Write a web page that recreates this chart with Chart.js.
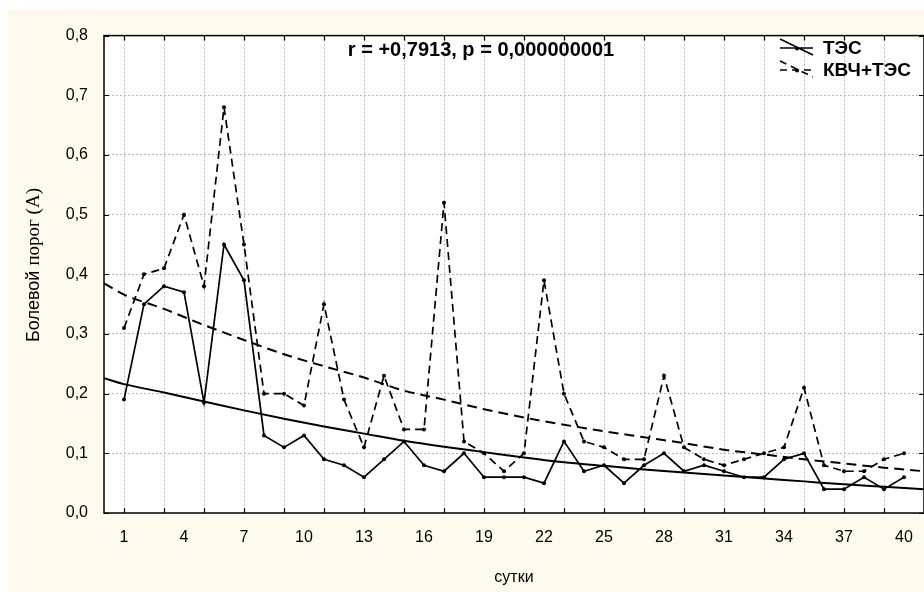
<!DOCTYPE html>
<html lang="ru">
<head>
<meta charset="utf-8">
<title>Болевой порог</title>
<script src="https://cdn.jsdelivr.net/npm/chart.js@4.4.1/dist/chart.umd.min.js"></script>
<style>
  html, body { margin: 0; padding: 0; background: #fff; overflow: hidden; }
  #wrap { position: absolute; left: 8px; top: 10px; width: 920px; height: 582px; }
</style>
</head>
<body>
<div id="wrap"><canvas id="grafico" width="920" height="582"></canvas></div>
<script>
const sutki = [1, 2, 3, 4, 5, 6, 7, 8, 9, 10, 11, 12, 13, 14, 15, 16, 17, 18, 19, 20,
  21, 22, 23, 24, 25, 26, 27, 28, 29, 30, 31, 32, 33, 34, 35, 36, 37, 38, 39, 40];

const tes = [0.19, 0.35, 0.38, 0.37, 0.185, 0.45, 0.39, 0.13, 0.11, 0.13,
  0.09, 0.08, 0.06, 0.09, 0.12, 0.08, 0.07, 0.10, 0.06, 0.06,
  0.06, 0.05, 0.12, 0.07, 0.08, 0.05, 0.08, 0.10, 0.07, 0.08,
  0.07, 0.06, 0.06, 0.09, 0.10, 0.04, 0.04, 0.06, 0.04, 0.06];

const kvchTes = [0.31, 0.40, 0.41, 0.50, 0.38, 0.68, 0.45, 0.20, 0.20, 0.18,
  0.35, 0.19, 0.11, 0.23, 0.14, 0.14, 0.52, 0.12, 0.10, 0.07,
  0.10, 0.39, 0.20, 0.12, 0.11, 0.09, 0.09, 0.23, 0.11, 0.09,
  0.08, 0.09, 0.10, 0.11, 0.21, 0.08, 0.07, 0.07, 0.09, 0.10];

// сглаживающие кривые
const trendX = [0, 1, 3, 5, 7, 9, 11, 13, 15, 17, 19, 21, 23, 25, 27, 29, 31, 33, 35, 37, 39, 41];
const trendTes = [0.226, 0.216, 0.202, 0.187, 0.172, 0.158, 0.145, 0.133, 0.121, 0.111, 0.102,
  0.093, 0.085, 0.079, 0.073, 0.068, 0.063, 0.058, 0.053, 0.048, 0.044, 0.040];
const trendKvch = [0.385, 0.366, 0.342, 0.315, 0.290, 0.266, 0.246, 0.227, 0.205, 0.190, 0.174,
  0.160, 0.148, 0.137, 0.127, 0.117, 0.106, 0.098, 0.090, 0.083, 0.076, 0.070];

const xLabels = [1, 4, 7, 10, 13, 16, 19, 22, 25, 28, 31, 34, 37, 40];
const podpis = 'r = +0,7913, p = 0,000000001';
const seriesNames = ['ТЭС', 'КВЧ+ТЭС'];

const fon = '#fffaee';
const setka = '#b8b8b8';

function tochki(xs, ys) {
  return xs.map((x, i) => ({ x: x, y: ys[i] }));
}

const oformlenie = {
  id: 'oformlenie',
  beforeDraw(chart) {
    const { ctx, chartArea: a } = chart;
    ctx.save();
    ctx.fillStyle = fon;
    ctx.fillRect(0, 0, chart.width, chart.height);
    ctx.fillStyle = '#fff';
    ctx.fillRect(a.left, a.top, a.right - a.left, a.bottom - a.top);
    ctx.restore();
  },
  afterDraw(chart) {
    const { ctx, chartArea: a, scales } = chart;
    const x = scales.x, y = scales.y;
    ctx.save();

    // рамка и засечки внутрь
    ctx.strokeStyle = '#000';
    ctx.lineWidth = 1.5;
    ctx.strokeRect(a.left, a.top, a.right - a.left, a.bottom - a.top);
    ctx.lineWidth = 1.2;
    ctx.beginPath();
    for (let v = 1; v <= 41; v += 2) {
      const px = Math.round(x.getPixelForValue(v)) + 0.5;
      ctx.moveTo(px, a.bottom); ctx.lineTo(px, a.bottom - 5);
      ctx.moveTo(px, a.top); ctx.lineTo(px, a.top + 5);
    }
    y.ticks.forEach(t => {
      const py = Math.round(y.getPixelForValue(t.value)) + 0.5;
      ctx.moveTo(a.left, py); ctx.lineTo(a.left + 5, py);
      ctx.moveTo(a.right, py); ctx.lineTo(a.right - 5, py);
    });
    ctx.stroke();

    // подпись корреляции
    ctx.fillStyle = '#000';
    ctx.font = 'bold 20px "Liberation Sans", Arial, sans-serif';
    ctx.textAlign = 'center';
    ctx.textBaseline = 'middle';
    ctx.fillText(podpis, 473, 40);

    // легенда
    const ly = [38, 60];
    ctx.font = 'bold 19px "Liberation Sans", Arial, sans-serif';
    ctx.textAlign = 'left';
    seriesNames.forEach((name, i) => {
      ctx.setLineDash(i === 0 ? [] : [7, 5]);
      ctx.lineWidth = 1.6;
      ctx.beginPath();
      ctx.moveTo(772, ly[i]); ctx.lineTo(805, ly[i]);
      ctx.moveTo(772, ly[i] - 9); ctx.lineTo(805, ly[i] + 7);
      ctx.stroke();
      ctx.setLineDash([]);
      ctx.beginPath();
      ctx.arc(789, ly[i] + 0.5, 2, 0, Math.PI * 2);
      ctx.fill();
      ctx.fillText(name, 815, ly[i] + 1);
    });

    // подпись оси Y: часть гротеском, часть антиквой, как на оригинале
    ctx.save();
    ctx.translate(26, 255);
    ctx.rotate(-Math.PI / 2);
    const f1 = '18px "Liberation Sans", Arial, sans-serif';
    const f2 = '19px "Liberation Serif", "Times New Roman", serif';
    ctx.font = f1;
    const w1 = ctx.measureText('Болевой ').width;
    ctx.font = f2;
    const w2 = ctx.measureText('порог (А)').width;
    let sx = -(w1 + w2) / 2;
    ctx.textBaseline = 'middle';
    ctx.font = f1;
    ctx.fillText('Болевой ', sx, 0);
    ctx.font = f2;
    ctx.fillText('порог (А)', sx + w1, 0);
    ctx.restore();

    ctx.restore();
  }
};

function gerarGrafico() {
  const ctx = document.getElementById('grafico').getContext('2d');
  new Chart(ctx, {
    type: 'line',
    data: {
      datasets: [
        {
          label: seriesNames[0],
          data: tochki(sutki, tes),
          borderColor: '#000',
          borderWidth: 1.7,
          pointRadius: 2,
          pointBorderWidth: 0,
          pointBackgroundColor: '#000',
          tension: 0
        },
        {
          label: seriesNames[1],
          data: tochki(sutki, kvchTes),
          borderColor: '#000',
          borderWidth: 1.7,
          borderDash: [8, 5],
          pointRadius: 2,
          pointBorderWidth: 0,
          pointBackgroundColor: '#000',
          tension: 0
        },
        {
          label: 'тренд ТЭС',
          data: tochki(trendX, trendTes),
          borderColor: '#000',
          borderWidth: 2,
          pointRadius: 0,
          cubicInterpolationMode: 'monotone'
        },
        {
          label: 'тренд КВЧ+ТЭС',
          data: tochki(trendX, trendKvch),
          borderColor: '#000',
          borderWidth: 2,
          borderDash: [10, 6],
          pointRadius: 0,
          cubicInterpolationMode: 'monotone'
        }
      ]
    },
    options: {
      responsive: false,
      animation: false,
      devicePixelRatio: 1,
      layout: { padding: { top: 21.5, right: 4, bottom: 0, left: 0 } },
      plugins: {
        legend: { display: false },
        tooltip: { enabled: false }
      },
      scales: {
        x: {
          type: 'linear',
          min: 0,
          max: 41,
          afterFit: s => {
            s.height = 79;
            s.paddingLeft = 0;
            s.paddingRight = 0;
          },
          ticks: {
            stepSize: 1,
            autoSkip: false,
            maxRotation: 0,
            padding: 15,
            color: '#000',
            font: { family: '"Liberation Sans", Arial, sans-serif', size: 16 },
            callback: v => xLabels.includes(v) ? String(v) : ''
          },
          grid: {
            drawTicks: false,
            lineWidth: 1,
            color: c => (c.tick && c.tick.value % 2 === 1 && c.tick.value < 41) ? setka : 'rgba(0,0,0,0)'
          },
          border: { display: false, dash: [2, 2] },
          title: {
            display: true,
            text: 'сутки',
            color: '#000',
            font: { family: '"Liberation Sans", Arial, sans-serif', size: 16 },
            padding: { top: 0, bottom: 5 }
          }
        },
        y: {
          min: 0,
          max: 0.8,
          afterFit: s => { s.width = 96; },
          ticks: {
            stepSize: 0.1,
            padding: 16,
            color: '#000',
            font: { family: '"Liberation Sans", Arial, sans-serif', size: 16 },
            callback: v => v.toFixed(1).replace('.', ',')
          },
          grid: {
            drawTicks: false,
            lineWidth: 1,
            color: c => (c.tick && c.tick.value > 0.001 && c.tick.value < 0.799) ? setka : 'rgba(0,0,0,0)'
          },
          border: { display: false, dash: [2, 2] }
        }
      }
    },
    plugins: [oformlenie]
  });
}

window.onload = gerarGrafico;
</script>
</body>
</html>
